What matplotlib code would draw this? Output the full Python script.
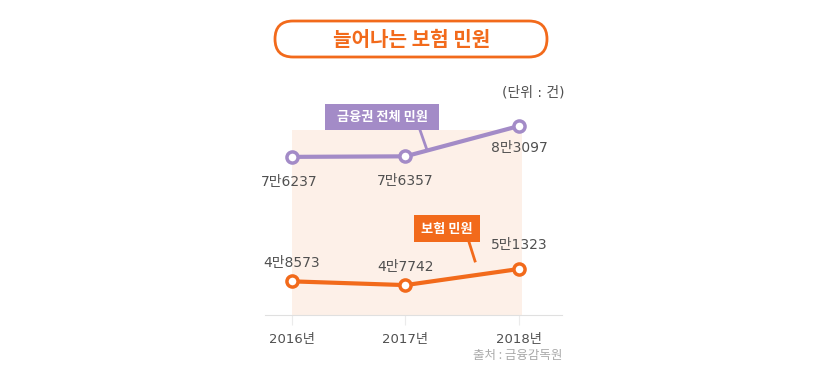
import matplotlib
matplotlib.use("Agg")
import matplotlib.pyplot as plt
from matplotlib.patches import FancyBboxPatch, Rectangle

plt.rcParams['font.family'] = ['DejaVu Sans', 'Noto Sans CJK KR']
KR = ['Noto Sans CJK KR', 'DejaVu Sans']

years = [2016, 2017, 2018]
year_labels = ['2016년', '2017년', '2018년']
total = [76237, 76357, 83097]
total_labels = ['7만6237', '7만6357', '8만3097']
insur = [48573, 47742, 51323]
insur_labels = ['4만8573', '4만7742', '5만1323']

purple = '#a38bc7'
orange = '#f26a1b'
grey = '#505050'

W, H = 820, 376
fig = plt.figure(figsize=(W / 100, H / 100), dpi=100)

ax = fig.add_axes([265 / W, 1 - 315 / H, 297 / W, 215 / H])
ax.set_xlim(2015.762, 2018.379)
ax.set_ylim(41097, 88875)

# overlay in pixel units for decorations (on top of the chart)
ov = fig.add_axes([0, 0, 1, 1], zorder=5)
ov.set_xlim(0, W)
ov.set_ylim(H, 0)
ov.axis('off')

# shaded background
ax.fill_between([2016, 2018.03], 41097, 82200, color='#fdf0e8', lw=0, zorder=0)

ax.plot(years, total, color=purple, lw=3, marker='o', ms=8, mfc='white',
        mec=purple, mew=2.5, zorder=3)
ax.plot(years, insur, color=orange, lw=3, marker='o', ms=8, mfc='white',
        mec=orange, mew=2.5, zorder=3)

# value labels
for x, v, s, dy, dx in zip(years, total, total_labels, [-18, -18, -16], [-2, 0, 0]):
    ax.annotate(s, (x, v), xytext=(dx, dy), textcoords='offset points',
                ha='center', va='center', fontsize=10, color=grey)
for x, v, s, dy in zip(years, insur, insur_labels, [13, 13, 17]):
    ax.annotate(s, (x, v), xytext=(0, dy), textcoords='offset points',
                ha='center', va='center', fontsize=10, color=grey)

# axes styling
for side in ['top', 'right', 'left']:
    ax.spines[side].set_visible(False)
ax.spines['bottom'].set_color('#e0e0e0')
ax.set_yticks([])
ax.set_xticks(years)
ax.set_xticklabels(year_labels, fontsize=9.5, color=grey)
ax.tick_params(axis='x', length=7, color='#ebebeb', pad=6)

# callout boxes
ov.add_patch(Rectangle((325, 104), 114, 26, fc=purple, ec='none'))
ov.text(382, 117.5, '금융권 전체 민원', ha='center', va='center', family=KR,
        fontsize=9.5, color='white', fontweight='bold')
ov.plot([420, 427], [130, 150], color=purple, lw=2)
ov.add_patch(Rectangle((414, 215), 66, 27, fc=orange, ec='none'))
ov.text(447, 228.5, '보험 민원', ha='center', va='center', family=KR,
        fontsize=9.5, color='white', fontweight='bold')
ov.plot([469, 475], [242, 261], color=orange, lw=2)

# title
ov.add_patch(FancyBboxPatch((275, 21), 272, 36,
                            boxstyle='round,pad=0,rounding_size=18',
                            fc='white', ec=orange, lw=2))
ov.text(412, 39.5, '늘어나는 보험 민원', ha='center', va='center', family=KR,
        fontsize=14.5, color=orange, fontweight='bold')

ov.text(565, 92, '(단위 : 건)', ha='right', va='center',
        fontsize=10, color=grey)
ov.text(562, 355, '출처 : 금융감독원', ha='right', va='center', family=KR,
        fontsize=9, color='#aaaaaa')

fig.savefig('out.png', dpi=100)
